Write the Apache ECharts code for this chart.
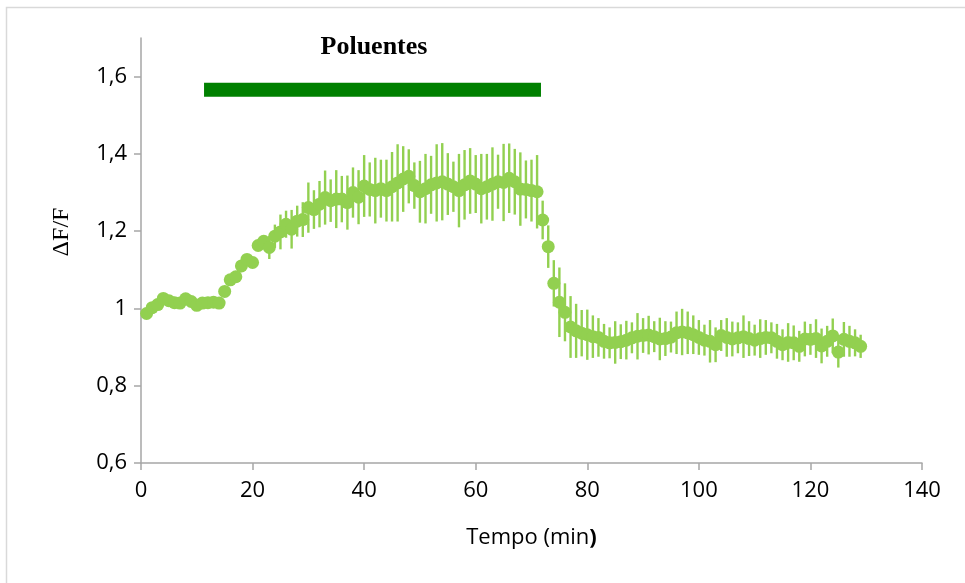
<!DOCTYPE html>
<html>
<head>
<meta charset="utf-8">
<script src="https://cdn.jsdelivr.net/npm/echarts@6/dist/echarts.min.js"></script>
<style>
html,body{margin:0;padding:0;background:#fff;}
#chart{width:965px;height:583px;}
</style>
</head>
<body>
<div id="chart"></div>
<script>
// Time (min)
const minutes = [1,2,3,4,5,6,7,8,9,10,11,12,13,14,15,16,17,18,19,20,
  21,22,23,24,25,26,27,28,29,30,31,32,33,34,35,36,37,38,39,40,
  41,42,43,44,45,46,47,48,49,50,51,52,53,54,55,56,57,58,59,60,
  61,62,63,64,65,66,67,68,69,70,71,72,73,74,75,76,77,78,79,80,
  81,82,83,84,85,86,87,88,89,90,91,92,93,94,95,96,97,98,99,100,
  101,102,103,104,105,106,107,108,109,110,111,112,113,114,115,116,117,118,119,120,
  121,122,123,124,125,126,127,128,129];
// Mean ΔF/F
const dff = [0.987,1.002,1.010,1.026,1.020,1.015,1.014,1.025,1.018,1.008,
  1.014,1.015,1.016,1.014,1.044,1.074,1.082,1.110,1.127,1.119,
  1.163,1.174,1.158,1.187,1.198,1.218,1.205,1.226,1.230,1.261,
  1.256,1.270,1.287,1.279,1.283,1.283,1.274,1.300,1.288,1.317,
  1.308,1.305,1.310,1.305,1.315,1.325,1.335,1.342,1.318,1.302,
  1.310,1.320,1.325,1.328,1.322,1.315,1.305,1.320,1.330,1.322,
  1.310,1.315,1.322,1.328,1.326,1.337,1.328,1.309,1.308,1.305,
  1.302,1.229,1.160,1.065,1.016,0.990,0.952,0.942,0.936,0.932,
  0.927,0.925,0.915,0.911,0.912,0.914,0.918,0.924,0.928,0.930,
  0.931,0.927,0.921,0.922,0.926,0.937,0.939,0.937,0.932,0.925,
  0.918,0.915,0.906,0.930,0.925,0.921,0.924,0.927,0.922,0.918,
  0.922,0.925,0.924,0.915,0.906,0.912,0.911,0.902,0.921,0.920,
  0.922,0.903,0.915,0.929,0.887,0.920,0.915,0.911,0.902];
// Error (± SEM)
const sem = [0.004,0.004,0.004,0.004,0.004,0.004,0.004,0.004,0.004,0.004,
  0.004,0.006,0.010,0.006,0.006,0.008,0.008,0.008,0.008,0.010,
  0.012,0.014,0.030,0.030,0.045,0.035,0.050,0.040,0.045,0.065,
  0.050,0.060,0.070,0.055,0.075,0.060,0.070,0.065,0.070,0.080,
  0.070,0.085,0.075,0.080,0.090,0.100,0.085,0.070,0.060,0.080,
  0.090,0.075,0.100,0.100,0.080,0.065,0.095,0.090,0.085,0.075,
  0.090,0.085,0.095,0.070,0.100,0.090,0.085,0.095,0.075,0.080,
  0.095,0.050,0.055,0.060,0.090,0.075,0.080,0.070,0.060,0.065,
  0.055,0.050,0.045,0.040,0.055,0.045,0.050,0.040,0.060,0.045,
  0.050,0.040,0.055,0.045,0.040,0.055,0.060,0.055,0.050,0.045,
  0.040,0.055,0.045,0.040,0.050,0.045,0.040,0.055,0.045,0.040,
  0.050,0.045,0.040,0.045,0.040,0.050,0.045,0.040,0.045,0.040,
  0.050,0.045,0.040,0.045,0.040,0.045,0.040,0.035,0.030];
// Pollutant application period
const treatStart = 11.3;
const treatEnd = 71.7;
const treatLevel = 1.566;
const treatLabel = 'Poluentes';
// Axis ticks
const yTicks = [0.6, 0.8, 1.0, 1.2, 1.4, 1.6];
const xTicks = [0, 20, 40, 60, 80, 100, 120, 140];

const points = minutes.map((m, i) => [m, dff[i]]);
const errData = minutes.map((m, i) => [m, dff[i], sem[i]]);

const chart = echarts.init(document.getElementById('chart'), null, {renderer: 'canvas'});
const green = '#92D050';
const axisGray = '#A6A6A6';
const labelFont = "'Open Sans', 'Liberation Sans', sans-serif";
const serifFont = "'Liberation Serif', 'DejaVu Serif', serif";

chart.setOption({
  animation: false,
  backgroundColor: '#fff',
  graphic: [
    {
      type: 'rect',
      shape: {x: 6.5, y: 7.5, width: 1000, height: 1000},
      style: {fill: null, stroke: '#D9D9D9', lineWidth: 1.5},
      silent: true, z: -10
    },
    {
      type: 'text',
      x: 374, y: 47,
      style: {
        text: treatLabel,
        font: "bold 26px " + serifFont,
        fill: '#000',
        align: 'center',
        verticalAlign: 'middle'
      }
    },
    {
      type: 'text',
      x: 62, y: 232,
      rotation: Math.PI / 2,
      style: {
        text: 'ΔF/F',
        font: "24px " + serifFont,
        fill: '#000',
        align: 'center',
        verticalAlign: 'middle'
      }
    }
  ],
  grid: {left: 141, right: 43, top: 38, bottom: 120, containLabel: false},
  xAxis: {
    type: 'value',
    min: 0, max: 140, interval: 20,
    splitLine: {show: false},
    axisLine: {show: true, onZero: false, lineStyle: {color: axisGray, width: 1.5}},
    axisTick: {show: true, length: 7, lineStyle: {color: axisGray, width: 1.5}},
    axisLabel: {
      margin: 17,
      color: '#000',
      fontSize: 22,
      fontFamily: labelFont
    },
    name: '{a|Tempo (min}{b|)}',
    nameLocation: 'middle',
    nameGap: 64,
    nameTextStyle: {
      rich: {
        a: {fontSize: 22, fontFamily: labelFont, color: '#000'},
        b: {fontSize: 22, fontFamily: labelFont, color: '#000', fontWeight: 'bold'}
      }
    }
  },
  yAxis: {
    type: 'value',
    min: 0.6, max: 1.7, interval: 0.2,
    splitLine: {show: false},
    axisLine: {show: true, lineStyle: {color: axisGray, width: 1.5}},
    axisTick: {show: true, length: 7, customValues: yTicks, lineStyle: {color: axisGray, width: 1.5}},
    axisLabel: {
      customValues: yTicks,
      margin: 14,
      color: '#000',
      fontSize: 22,
      fontFamily: labelFont,
      formatter: v => (v > 1.65 ? '' : String(Math.round(v * 10) / 10).replace('.', ','))
    }
  },
  series: [
    {
      type: 'line',
      data: [[treatStart, treatLevel], [treatEnd, treatLevel]],
      symbol: 'none',
      lineStyle: {color: '#008000', width: 14, cap: 'butt'},
      silent: true,
      z: 1
    },
    {
      type: 'custom',
      data: errData,
      renderItem: function (params, api) {
        const x = api.value(0), y = api.value(1), e = api.value(2);
        const top = api.coord([x, y + e]);
        const bot = api.coord([x, y - e]);
        return {
          type: 'line',
          shape: {x1: top[0], y1: top[1], x2: bot[0], y2: bot[1]},
          style: {stroke: green, lineWidth: 2.4}
        };
      },
      encode: {x: 0, y: [1]},
      silent: true,
      z: 2
    },
    {
      type: 'scatter',
      data: points,
      symbol: 'circle',
      symbolSize: 13,
      itemStyle: {color: green, opacity: 1},
      z: 3
    }
  ]
});
</script>
</body>
</html>
